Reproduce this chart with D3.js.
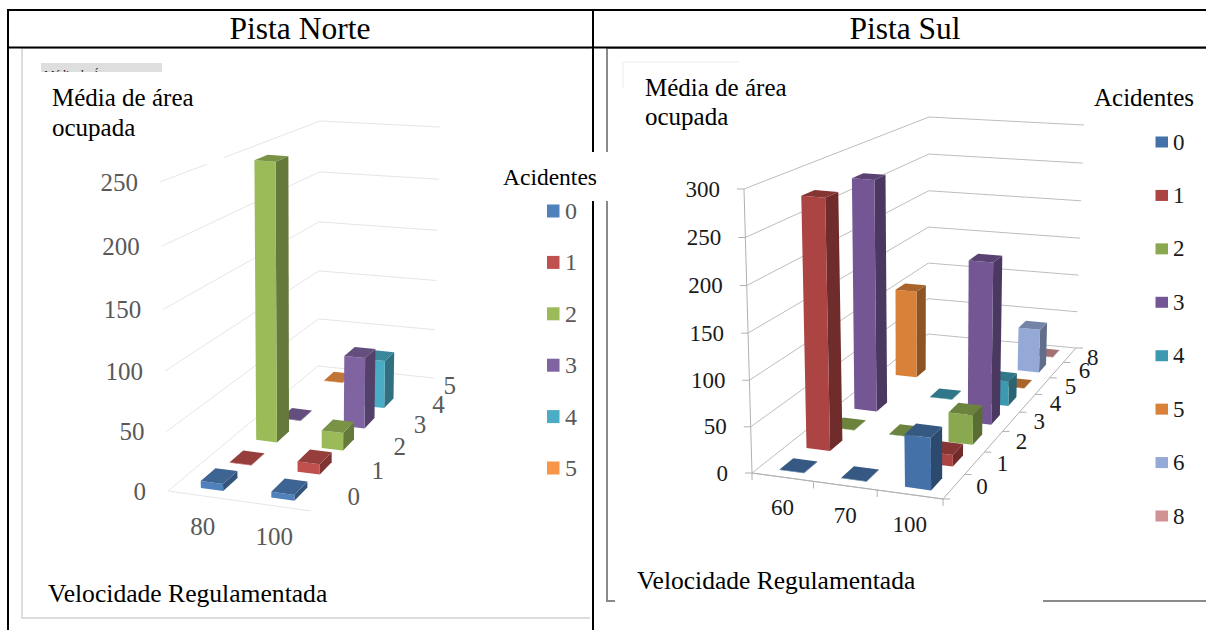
<!DOCTYPE html>
<html><head><meta charset="utf-8">
<script src="https://cdn.jsdelivr.net/npm/d3@7"></script>
<style>html,body{margin:0;padding:0;background:#fff}svg{display:block}text{font-family:"Liberation Serif",serif}</style>
</head><body><svg id="c" width="1206" height="630"></svg>
<script>
// ---- data ----
const northSpeeds = ["80","100"];
const northAccidents = ["0","1","2","3","4","5"];
const northA0 = [6,5];
const northA1 = [0.5,9];
const northA2 = [247,16];
const northA3 = [0.5,66];
const northA4 = [null,46];
const northA5 = [0.5,null];
const northTicks = [0,50,100,150,200,250];

const southSpeeds = ["60","70","100"];
const southAccidents = ["0","1","2","3","4","5","6","8"];
const southA0 = [0.5,0.5,56];
const southA1 = [279,null,13];
const southA2 = [0.5,0.5,34];
const southA3 = [274,null,190];
const southA4 = [null,0.5,30];
const southA5 = [110,null,0.5];
const southA6 = [null,null,56];
const southA8 = [null,null,0.5];
const southTicks = [0,50,100,150,200,250,300];

const northColors = ["#4f81bd","#c0504d","#9bbb59","#8064a2","#4bacc6","#f79646"];
const southColors = ["#4472a8","#ab4442","#8aa84f","#735693","#3d99b0","#d98139","#95a9d6","#d09293"];

const svg = d3.select("#c");

function quad(p){
  const [p0,p1,p2,p3]=p;
  const dx1=p1[0]-p2[0],dx2=p3[0]-p2[0],sx=p0[0]-p1[0]+p2[0]-p3[0];
  const dy1=p1[1]-p2[1],dy2=p3[1]-p2[1],sy=p0[1]-p1[1]+p2[1]-p3[1];
  const den=dx1*dy2-dx2*dy1;
  const g=(sx*dy2-dx2*sy)/den,h=(dx1*sy-sx*dy1)/den;
  const a=p1[0]-p0[0]+g*p1[0],b=p3[0]-p0[0]+h*p3[0],c=p0[0];
  const d=p1[1]-p0[1]+g*p1[1],e=p3[1]-p0[1]+h*p3[1],f=p0[1];
  return (u,v)=>{const w=g*u+h*v+1;return [(a*u+b*v+c)/w,(d*u+e*v+f)/w];};
}

function panel(o){
  const g=svg.append("g");
  const floor=quad(o.floor), top=quad(o.top);
  const zS=d3.scaleLinear().domain([0,o.max]).range([0,1]);
  const P=(u,v,val)=>{const a=floor(u,v),b=top(u,v),s=zS(val),t=s/(1+o.k*(1-s));return [a[0]+(b[0]-a[0])*t,a[1]+(b[1]-a[1])*t];};
  const uS=d3.scaleBand().domain(o.speeds).range([0,1]).paddingInner(o.pu).paddingOuter(o.pu/2);
  const vS=d3.scaleBand().domain(o.accidents).range([0,1]).paddingInner(o.pv).paddingOuter(o.pv/2);
  const line=(a,b,c,w)=>g.append("line").attr("x1",a[0]).attr("y1",a[1]).attr("x2",b[0]).attr("y2",b[1]).attr("stroke",c).attr("stroke-width",w||1);
  o.ticks.forEach(t=>{
    line(P(0,0,t),P(0,1,t),o.grid,o.gw);
    line(P(0,1,t),P(1,1,t),o.grid,o.gw);
  });
  line(P(0,0,0),P(1,0,0),o.grid,o.gw);
  if(o.axes){
    line(P(0,0,0),P(0,0,o.max),o.axis);
    line(P(1,0,0),P(1,1,0),o.axis);
    line(P(0,0,0),P(1,0,0),o.axis);
    o.ticks.forEach(t=>{const a=P(0,0,t);line(a,[a[0]-7,a[1]],o.axis);});
    d3.range(o.speeds.length+1).forEach(i=>{const a=P(i/o.speeds.length,0,0);line(a,[a[0],a[1]+7],o.axis);});
    d3.range(o.accidents.length+1).forEach(i=>{const a=P(1,i/o.accidents.length,0);line(a,[a[0]+7,a[1]],o.axis);});
  }
  if(o.gap) g.append("rect").attr("x",o.gap[0]).attr("y",o.gap[1]).attr("width",o.gap[2]).attr("height",o.gap[3]).attr("fill","#fff");
  const bars=[];
  o.series.forEach((arr,vi)=>arr.forEach((val,ui)=>{ if(val!=null) bars.push({vi,ui,val}); }));
  bars.sort((a,b)=>d3.descending(a.vi,b.vi)||d3.ascending(a.ui,b.ui));
  const poly=pts=>pts.map(p=>p.map(n=>n.toFixed(1)).join(",")).join(" ");
  bars.forEach(b=>{
    const u0=uS(o.speeds[b.ui])+o.du,u1=u0+uS.bandwidth();
    const v0=vS(o.accidents[b.vi]),v1=v0+vS.bandwidth();
    const col=o.colors[b.vi];
    g.append("polygon").attr("points",poly([P(u1,v0,0),P(u1,v1,0),P(u1,v1,b.val),P(u1,v0,b.val)])).attr("fill",d3.rgb(col).darker(1.2));
    g.append("polygon").attr("points",poly([P(u0,v0,0),P(u1,v0,0),P(u1,v0,b.val),P(u0,v0,b.val)])).attr("fill",col);
    g.append("polygon").attr("points",poly([P(u0,v0,b.val),P(u1,v0,b.val),P(u1,v1,b.val),P(u0,v1,b.val)])).attr("fill",d3.rgb(col).darker(0.7));
  });
  const txt=(x,y,s,size,fill,anchor)=>g.append("text").attr("x",x).attr("y",y).attr("font-size",size).attr("fill",fill).attr("text-anchor",anchor||"middle").attr("dominant-baseline","central").text(s);
  o.ticks.forEach(t=>{const a=P(0,0,t);txt(a[0]-o.zOff,a[1],t,o.fs,o.tc,"end");});
  o.speeds.forEach(s=>{const a=P(uS(s)+uS.bandwidth()/2,0,0);txt(a[0],a[1]+o.uOff,s,o.fs,o.tc);});
  o.accidents.forEach((s,i)=>{
    const a=P(1,vS(s)+vS.bandwidth()/2,0);
    const n=i===o.accidents.length-1?o.lastNudge:[0,0];
    txt(a[0]+o.vOff[0]+n[0],a[1]+o.vOff[1]+n[1],s,o.fs,o.tc);
  });
}

const frame=(pts,c,w)=>svg.append("path").attr("d",d3.line()(pts)).attr("fill","none").attr("stroke",c).attr("stroke-width",w);
frame([[22,48],[22,618],[590,618]],"#dcdcdc",2);
frame([[22,48],[590,48]],"#dcdcdc",2);
svg.append("rect").attr("x",41).attr("y",63).attr("width",121).attr("height",9).attr("fill","#dedede");
svg.append("text").attr("x",44).attr("y",79).attr("font-size",12).attr("fill","#222").text("Média de Á");
svg.append("rect").attr("x",30).attr("y",72).attr("width",150).attr("height",12).attr("fill","#fff");
frame([[607,48],[607,601],[615,601]],"#8a8a8a",2);
frame([[607,48],[1206,48]],"#8a8a8a",2);
frame([[1043,601],[1206,601]],"#8a8a8a",2);
frame([[623,88],[623,62],[739,62]],"#ececec",1);

panel({
  speeds:northSpeeds,accidents:northAccidents,
  series:[northA0,northA1,northA2,northA3,northA4,northA5],colors:northColors,
  max:250,ticks:northTicks,k:0.05,du:0.012,
  floor:[[168,491],[311,511],[434,378],[318,366]],
  top:[[160,182],[309,195],[440,127],[320,121]],
  pu:0.68,pv:0.5,grid:"#e6e6e6",gw:1,axes:false,gap:[207,154,17,12],
  fs:25,tc:"#595959",zOff:22,uOff:31,vOff:[30,-1],lastNudge:[-6,0]
});
panel({
  speeds:southSpeeds,accidents:southAccidents,
  series:[southA0,southA1,southA2,southA3,southA4,southA5,southA6,southA8],colors:southColors,
  max:300,ticks:southTicks,k:0.03,du:0.012,
  floor:[[752,473],[943,499],[1076,348],[928,334]],
  top:[[744,189],[942,207],[1084,125],[929,117]],
  pu:0.6,pv:0.5,grid:"#bdbdbd",gw:1,axes:true,axis:"#b0b0b0",
  fs:23,tc:"#1a1a1a",zOff:24,uOff:30,vOff:[28,0],lastNudge:[-5,2]
});

svg.append("rect").attr("x",500).attr("y",152).attr("width",112).attr("height",49).attr("fill","#fff");

const rule=(x1,y1,x2,y2)=>svg.append("line").attr("x1",x1).attr("y1",y1).attr("x2",x2).attr("y2",y2).attr("stroke","#000").attr("stroke-width",2);
rule(7,10,1206,10);rule(7,47.5,1206,47.5);rule(8,10,8,630);
rule(593,10,593,152);rule(593,201,593,630);

const T=(x,y,s,size,fill,anchor)=>svg.append("text").attr("x",x).attr("y",y).attr("font-size",size).attr("fill",fill||"#000").attr("text-anchor",anchor||"start").text(s);
T(300,39,"Pista Norte",31.5,"#000","middle");
T(905,39,"Pista Sul",31.5,"#000","middle");
T(52,106,"Média de área",25);T(52,136,"ocupada",25);
T(48,602,"Velocidade Regulamentada",25.6);
T(645,96,"Média de área",25);T(645,125,"ocupada",25);
T(637,589,"Velocidade Regulamentada",25.5);
T(503,185,"Acidentes",23.5);
T(1094,106,"Acidentes",25);

const lN=d3.scalePoint().domain(northAccidents).range([211,468]);
northAccidents.forEach((a,i)=>{
  svg.append("rect").attr("x",547).attr("y",lN(a)-6.5).attr("width",12.5).attr("height",13).attr("fill",northColors[i]);
  svg.append("text").attr("x",565).attr("y",lN(a)).attr("dominant-baseline","central").attr("font-size",24).attr("fill","#595959").text(a);
});
const lS=d3.scalePoint().domain(southAccidents).range([142,516]);
southAccidents.forEach((a,i)=>{
  svg.append("rect").attr("x",1155.5).attr("y",lS(a)-5.5).attr("width",12.5).attr("height",11).attr("fill",southColors[i]);
  svg.append("text").attr("x",1173).attr("y",lS(a)).attr("dominant-baseline","central").attr("font-size",23).attr("fill","#1a1a1a").text(a);
});
</script></body></html>
